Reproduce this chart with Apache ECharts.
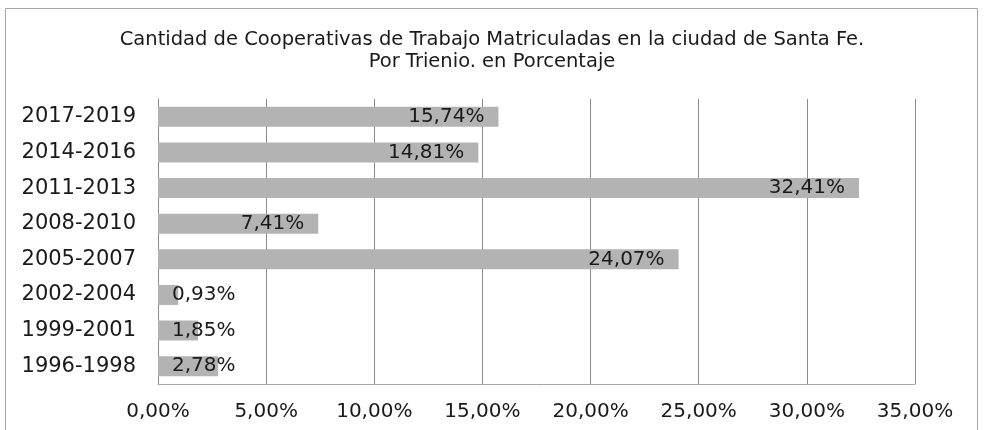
<!DOCTYPE html>
<html><head><meta charset="utf-8">
<script src="https://cdn.jsdelivr.net/npm/echarts@6/dist/echarts.min.js"></script>
<style>html,body{margin:0;padding:0;background:#fff}#c{width:984px;height:430px}</style>
</head><body><div id="c"></div>
<script>
const categories = ['1996-1998','1999-2001','2002-2004','2005-2007','2008-2010','2011-2013','2014-2016','2017-2019'];
const values = [2.78, 1.85, 0.93, 24.07, 7.41, 32.41, 14.81, 15.74];
const xTicks = [0, 5, 10, 15, 20, 25, 30, 35];
const titleLines = ['Cantidad de Cooperativas de Trabajo Matriculadas en la ciudad de Santa Fe.', 'Por Trienio. en Porcentaje'];

const FONT = 'DejaVu Sans';
const fmt = v => v.toFixed(2).replace('.', ',') + '%';

const chart = echarts.init(document.getElementById('c'), null, {renderer: 'canvas'});
chart.setOption({
  animation: false,
  backgroundColor: '#fff',
  graphic: [{
    type: 'rect', shape: {x: 5.5, y: 8.5, width: 972, height: 440},
    style: {fill: 'none', stroke: '#a6a6a6', lineWidth: 1}, silent: true, z: -1
  }],
  title: {
    text: titleLines.join('\n'),
    left: 'center', top: 24, padding: 5,
    textStyle: {fontFamily: FONT, fontSize: 19.5, fontWeight: 'normal', color: '#1a1a1a', lineHeight: 22}
  },
  grid: {left: 158, right: 69, top: 99, bottom: 46, containLabel: false},
  xAxis: {
    type: 'value', min: 0, max: 35, interval: 5,
    axisLine: {show: true, lineStyle: {color: '#a6a6a6'}},
    axisTick: {show: false},
    splitLine: {show: true, lineStyle: {color: '#8c8c8c', width: 1}},
    axisLabel: {fontFamily: FONT, fontSize: 20, color: '#1a1a1a', margin: 18,
      formatter: v => xTicks.includes(v) ? fmt(v) : ''}
  },
  yAxis: {
    type: 'category', data: categories,
    axisLine: {show: true, lineStyle: {color: '#8c8c8c'}},
    axisTick: {show: false},
    axisLabel: {fontFamily: FONT, fontSize: 21, color: '#1a1a1a', margin: 22}
  },
  series: [{
    type: 'bar',
    data: values.map(v => ({
      value: v,
      label: v < 5
        ? {position: [14, '50%'], align: 'left', verticalAlign: 'middle'}
        : {position: 'insideRight', distance: 14}
    })),
    barWidth: 20,
    itemStyle: {color: '#b3b3b3'},
    label: {show: true, fontFamily: FONT, fontSize: 20, color: '#1a1a1a',
      formatter: p => fmt(p.value)}
  }]
});
</script></body></html>
